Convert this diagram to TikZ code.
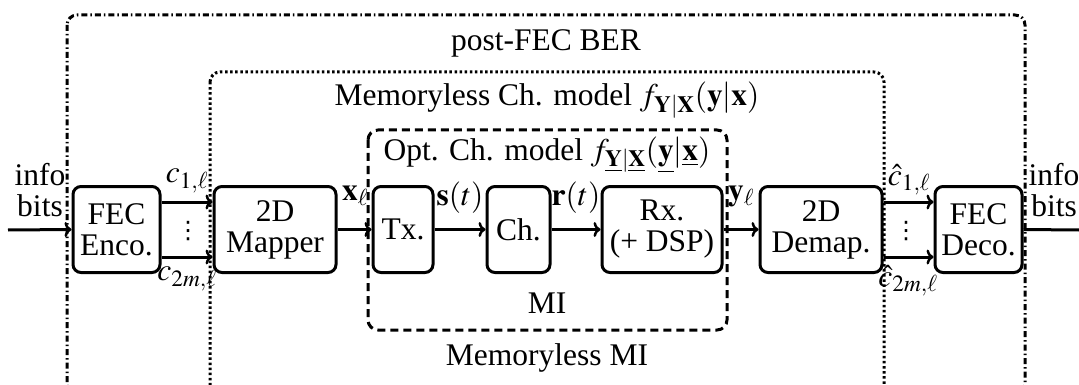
\documentclass[tikz,border=0pt]{standalone}
\usepackage{mathptmx}
\usepackage{fontspec}
\setmainfont{Liberation Serif}
\newfontfamily\dotsfont{DejaVu Sans}
\usetikzlibrary{arrows.meta}
\begin{document}
\begin{tikzpicture}[x=1pt,y=-1pt,
  font=\fontsize{31.5}{33}\selectfont,
  block/.style={draw,line width=3pt,rounded corners=8pt,minimum height=86pt,inner sep=0pt,align=center},
  link/.style={line width=3pt,-{To[length=7pt,width=15pt,line width=2.5pt]}},
  lbl/.style={inner sep=0pt},
  vdot/.style={inner sep=0pt,font=\dotsfont\fontsize{24}{24}\selectfont},
  frameA/.style={line width=3pt,rounded corners=10pt,dash pattern=on 6pt off 3pt on 1.5pt off 3pt},
  frameB/.style={line width=3pt,rounded corners=10pt,dash pattern=on 2.5pt off 2.6pt},
  frameC/.style={line width=3pt,rounded corners=10pt,dash pattern=on 8pt off 5pt}]
\useasboundingbox (0,0) rectangle (1079,385);
\begin{scope}
\clip (0,0) rectangle (1079,385);
% nested measurement frames
\draw[frameA] (67,15) rectangle (1025,395);
\draw[frameB] (210,72) rectangle (884,395);
\draw[frameC] (368,130) rectangle (727,330);
\end{scope}

% frame titles
\node[lbl] (tber) at (546,43) {post-FEC BER};
\node[lbl] (tmem) at (547,100) {Memoryless Ch. model $f_{\mathbf{Y}|\mathbf{X}}(\mathbf{y}|\mathbf{x})$};
\node[lbl] (topt) at (547,155) {Opt. Ch. model $f_{\underline{\mathbf{Y}}|\underline{\mathbf{X}}}(\underline{\mathbf{y}}|\underline{\mathbf{x}})$};
\node[lbl] (tmi) at (547,303) {MI};
\node[lbl] (tmmi) at (547,358) {Memoryless MI};

% processing blocks
\node[block,minimum width=87pt]  (enc) at (116.5,229.5) {FEC\\[-2pt]Enco.};
\node[block,minimum width=122pt] (map) at (275,229.5) {2D\\[-2pt]Mapper};
\node[block,minimum width=60pt]  (tx)  at (403,229.5) {Tx.};
\node[block,minimum width=63pt]  (ch)  at (518.5,229.5) {Ch.};
\node[block,minimum width=120pt] (rx)  at (662,229.5) {Rx.\\[-2pt](+ DSP)};
\node[block,minimum width=122pt] (dem) at (821,229.5) {2D\\[-2pt]Demap.};
\node[block,minimum width=87pt]  (dec) at (978.5,229.5) {FEC\\[-2pt]Deco.};

% free ends of the outer arrows
\coordinate (src) at (8,230);
\coordinate (snk) at (1079,230);

% connectors
\draw[link] (src) -- (enc.west);
\draw[link] ([yshift=-27.5pt]enc.east) -- ([yshift=-27.5pt]map.west);
\draw[link] ([yshift=27.5pt]enc.east) -- ([yshift=27.5pt]map.west);
\draw[link] (map.east) -- (tx.west);
\draw[link] (tx.east) -- (ch.west);
\draw[link] (ch.east) -- (rx.west);
\draw[link] (rx.east) -- (dem.west);
\draw[link] ([yshift=-27.5pt]dem.east) -- ([yshift=-27.5pt]dec.west);
\draw[link] ([yshift=27.5pt]dem.east) -- ([yshift=27.5pt]dec.west);
\draw[line width=3pt] (dec.east) -- (snk);

% signal labels
\node[lbl,align=center] (inl) at (40,190) {info\\[-2pt]bits};
\node[lbl,align=center] (outl) at (1054,190) {info\\[-2pt]bits};
\node[lbl] (c1) at (187,181) {$c_{1,\ell}$};
\node[lbl] (c2) at (187,279) {$c_{2m,\ell}$};
\node[vdot] (cd) at (188,231) {⋮};
\node[lbl] (h1) at (909,180) {$\hat{c}_{1,\ell}$};
\node[lbl] (h2) at (908,281) {$\hat{c}_{2m,\ell}$};
\node[vdot] (hd) at (906,231) {⋮};
\node[lbl] (xl) at (355,196) {$\mathbf{x}_\ell$};
\node[lbl] (st) at (460,198) {$\mathbf{s}(t)$};
\node[lbl] (rt) at (576,198) {$\mathbf{r}(t)$};
\node[lbl] (yl) at (741,196) {$\mathbf{y}_\ell$};
\end{tikzpicture}
\end{document}
